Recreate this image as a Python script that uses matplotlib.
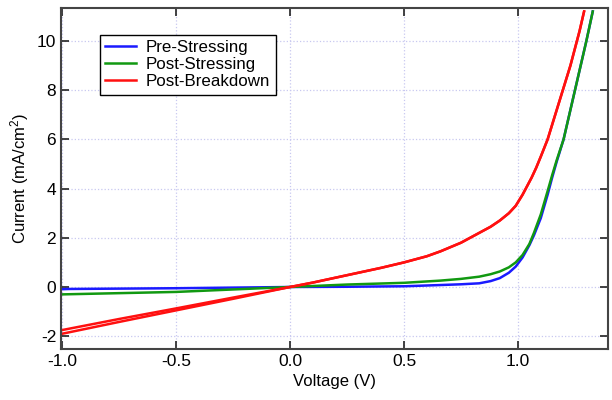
import numpy as np
import matplotlib
matplotlib.use("Agg")
import matplotlib.pyplot as plt

plt.rcParams['font.family'] = ['Liberation Sans', 'DejaVu Sans']
plt.rcParams['mathtext.default'] = 'regular'
plt.rcParams['axes.unicode_minus'] = False

# Pre-Stressing
v_pre = [-1.0, -0.97, -0.5, 0.0, 0.25, 0.5, 0.66, 0.75, 0.83, 0.88, 0.92, 0.96,
         0.99, 1.02, 1.05, 1.07, 1.1, 1.13, 1.15, 1.17, 1.2, 1.225, 1.25,
         1.275, 1.3, 1.328]
i_pre = [-0.09, -0.08, -0.05, 0.0, 0.01, 0.03, 0.08, 0.11, 0.15, 0.24, 0.36,
         0.58, 0.83, 1.2, 1.7, 2.1, 2.8, 3.75, 4.45, 5.1, 6.0, 7.0, 8.0, 9.0,
         10.0, 11.2]

# Post-Stressing
v_post = [-1.0, -0.5, 0.0, 0.25, 0.5, 0.66, 0.75, 0.83, 0.88, 0.92, 0.96, 0.99,
          1.02, 1.05, 1.07, 1.1, 1.13, 1.15, 1.17, 1.2, 1.225, 1.25, 1.275,
          1.3, 1.328]
i_post = [-0.3, -0.2, 0.0, 0.1, 0.17, 0.26, 0.33, 0.42, 0.52, 0.63, 0.8, 1.0,
          1.3, 1.75, 2.2, 2.95, 3.9, 4.55, 5.16, 6.0, 7.0, 8.0, 9.0, 10.0, 11.2]

# Post-Breakdown (two sweeps)
v_bd = [-1.0, -0.75, -0.5, -0.25, 0.0, 0.1, 0.25, 0.4, 0.5, 0.6, 0.66, 0.75,
        0.83, 0.88, 0.92, 0.96, 0.99, 1.02, 1.04, 1.06, 1.08, 1.1, 1.13, 1.16,
        1.2, 1.23, 1.25, 1.27, 1.29]
i_bd_fwd = [-1.75, -1.3, -0.87, -0.43, 0.0, 0.18, 0.48, 0.78, 1.0, 1.25, 1.45,
            1.8, 2.2, 2.45, 2.7, 3.0, 3.3, 3.75, 4.1, 4.45, 4.85, 5.3, 6.0,
            6.9, 8.1, 9.0, 9.7, 10.4, 11.2]
i_bd_rev = [-1.9, -1.42, -0.95, -0.48, 0.0, 0.18, 0.48, 0.78, 1.0, 1.25, 1.45,
            1.8, 2.2, 2.45, 2.7, 3.0, 3.3, 3.75, 4.1, 4.45, 4.85, 5.3, 6.0,
            6.9, 8.1, 9.0, 9.7, 10.4, 11.2]

fig = plt.figure(figsize=(6.12, 4.0), dpi=100)
ax = fig.add_axes([0.0997, 0.1275, 0.8938, 0.8525])

ax.plot(v_pre, i_pre, color='#1a1aff', lw=1.8, label='Pre-Stressing')
ax.plot(v_post, i_post, color='#119911', lw=1.8, label='Post-Stressing')
ax.plot(v_bd, i_bd_fwd, color='#ff1010', lw=1.8, label='Post-Breakdown')
ax.plot(v_bd, i_bd_rev, color='#ff1010', lw=1.8)

ax.set_xlim(-1.005, 1.395)
ax.set_ylim(-2.52, 11.34)
ax.set_xticks([-1.0, -0.5, 0.0, 0.5, 1.0])
ax.set_xticklabels(['-1.0', '-0.5', '0.0', '0.5', '1.0'])
ax.set_yticks([-2, 0, 2, 4, 6, 8, 10])

ax.grid(True, linestyle=':', color='#c8c8f0', lw=0.9)
ax.tick_params(direction='in', length=6, width=1.2, top=True, right=True,
               labelsize=12.5, colors='#222222', labelcolor='black')
for s in ax.spines.values():
    s.set_color('#444444')
    s.set_linewidth(1.5)

ax.set_xlabel('Voltage (V)', fontsize=12)
ax.set_ylabel('Current (mA/cm$^2$)', fontsize=12)

leg = ax.legend(loc='upper left', bbox_to_anchor=(0.071, 0.921), borderaxespad=0,
                fancybox=False, edgecolor='black', fontsize=12.2, handlelength=1.8,
                handletextpad=0.6, labelspacing=0.12, borderpad=0.32, framealpha=1)
leg.get_frame().set_linewidth(1.0)

fig.savefig('out.png', dpi=100)
